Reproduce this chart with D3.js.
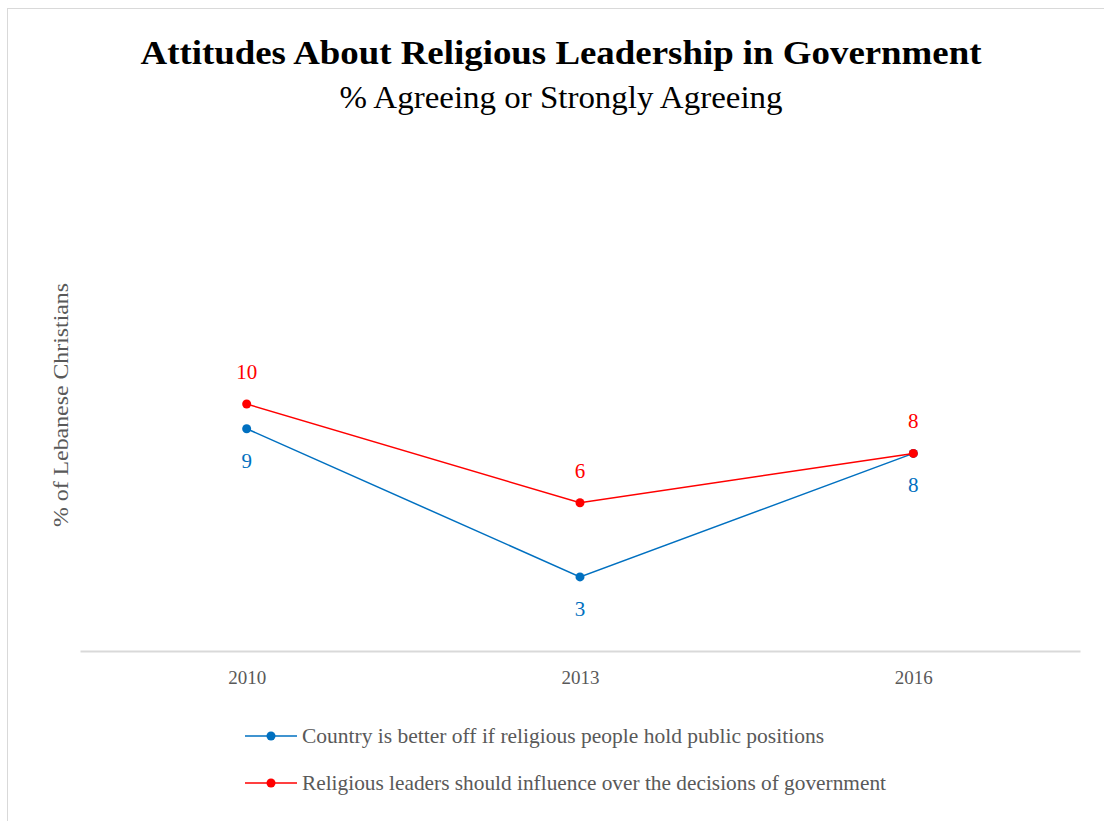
<!DOCTYPE html>
<html lang="en">
<head>
  <meta charset="UTF-8">
  <title>Attitudes About Religious Leadership in Government</title>
  <style>
  * { margin: 0; padding: 0; }
  body { background: #fff; }
  text { font-family: "Liberation Serif", "DejaVu Serif", serif; }
  </style>
  <script src="https://cdn.jsdelivr.net/npm/d3@7/dist/d3.min.js"></script>
</head>
<body>
<svg width="1104" height="821" id="svg1"></svg>
<script>
// data
const years = ["2010", "2013", "2016"];
const seriesNames = [
  "Country is better off if religious people hold public positions",
  "Religious leaders should influence over the decisions of government"
];
const publicPositions = [9, 3, 8];
const influenceGov = [10, 6, 8];
const colors = ["#0070C0", "#FF0000"];

const series = [
  { name: seriesNames[0], values: publicPositions, color: colors[0], above: false, len: 522 },
  { name: seriesNames[1], values: influenceGov, color: colors[1], above: true, len: 584 }
];

const svg = d3.select("#svg1");

// outer frame
svg.append("rect")
  .attr("x", 7.5).attr("y", 8.5)
  .attr("width", 1110).attr("height", 830)
  .attr("fill", "none")
  .attr("stroke", "#d9d9d9");

// title
svg.append("text")
  .attr("x", 561).attr("y", 64)
  .attr("text-anchor", "middle")
  .attr("font-size", 33)
  .attr("font-weight", "bold")
  .attr("fill", "#000")
  .attr("textLength", 841)
  .attr("lengthAdjust", "spacingAndGlyphs")
  .text("Attitudes About Religious Leadership in Government");

svg.append("text")
  .attr("x", 561).attr("y", 108)
  .attr("text-anchor", "middle")
  .attr("font-size", 31)
  .attr("fill", "#000")
  .attr("textLength", 443)
  .attr("lengthAdjust", "spacingAndGlyphs")
  .text("% Agreeing or Strongly Agreeing");

// scales
const x = d3.scalePoint().domain(years).range([80, 1080]).padding(0.5);
const y = d3.scaleLinear().domain([0, 20]).range([651, 157]);

// x axis
const xAxis = svg.append("g")
  .attr("transform", "translate(0,651)")
  .call(d3.axisBottom(x).tickSize(0).tickPadding(20));
xAxis.select(".domain").attr("stroke", "#d9d9d9").attr("stroke-width", 2);
xAxis.selectAll("text")
  .attr("font-family", "Liberation Serif, serif")
  .attr("font-size", 19)
  .attr("fill", "#595959");

// y axis title
svg.append("text")
  .attr("transform", "translate(68,405) rotate(-90)")
  .attr("text-anchor", "middle")
  .attr("font-size", 22)
  .attr("fill", "#595959")
  .attr("textLength", 244)
  .attr("lengthAdjust", "spacingAndGlyphs")
  .text("% of Lebanese Christians");

// lines
const line = d3.line()
  .x((d, i) => x(years[i]))
  .y(d => y(d));

const g = svg.append("g");
series.forEach(s => {
  g.append("path")
    .datum(s.values)
    .attr("fill", "none")
    .attr("stroke", s.color)
    .attr("stroke-width", 1.5)
    .attr("d", line);

  g.selectAll(null).data(s.values).enter()
    .append("circle")
    .attr("cx", (d, i) => x(years[i]))
    .attr("cy", d => y(d))
    .attr("r", 4.5)
    .attr("fill", s.color);

  g.selectAll(null).data(s.values).enter()
    .append("text")
    .attr("x", (d, i) => x(years[i]))
    .attr("y", d => y(d) + (s.above ? -25 : 39))
    .attr("text-anchor", "middle")
    .attr("font-size", 21)
    .attr("fill", s.color)
    .text(d => d);
});

// legend
const legend = svg.append("g");
series.forEach((s, i) => {
  const ly = 736 + i * 47;
  legend.append("line")
    .attr("x1", 245).attr("x2", 297)
    .attr("y1", ly).attr("y2", ly)
    .attr("stroke", s.color).attr("stroke-width", 1.5);
  legend.append("circle")
    .attr("cx", 271).attr("cy", ly).attr("r", 4.5)
    .attr("fill", s.color);
  legend.append("text")
    .attr("x", 302).attr("y", ly + 7)
    .attr("font-size", 21)
    .attr("fill", "#595959")
    .attr("textLength", s.len)
    .attr("lengthAdjust", "spacingAndGlyphs")
    .text(s.name);
});
</script>
</body>
</html>
